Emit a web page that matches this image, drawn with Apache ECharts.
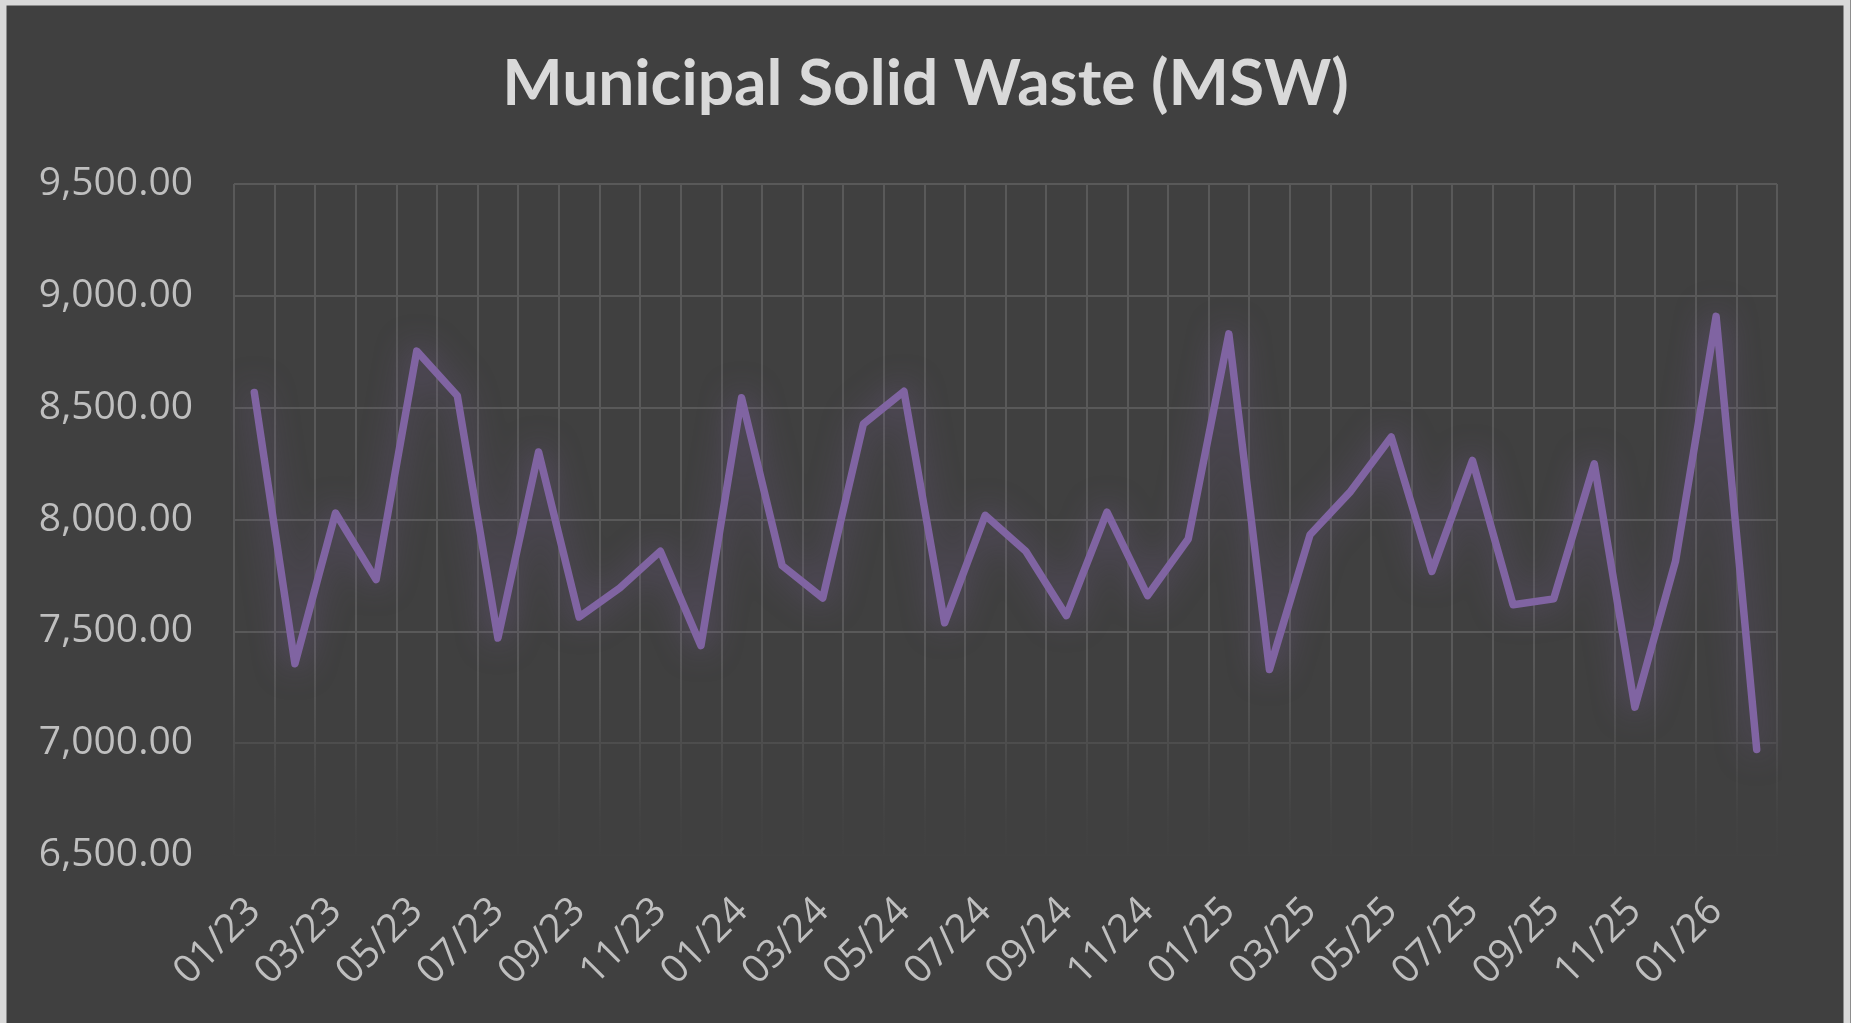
<!DOCTYPE html>
<html>
<head>
<meta charset="utf-8">
<script src="https://cdn.jsdelivr.net/npm/echarts@6/dist/echarts.min.js"></script>
<style>
  html, body { margin: 0; padding: 0; background: #404040; }
  #chart { width: 1851px; height: 1023px; }
</style>
</head>
<body>
<div id="chart"></div>
<script>
// monthly categories, Jan 2023 .. Feb 2026
const months = [
  '01/23', '02/23', '03/23', '04/23', '05/23', '06/23', '07/23', '08/23', '09/23', '10/23', '11/23', '12/23',
  '01/24', '02/24', '03/24', '04/24', '05/24', '06/24', '07/24', '08/24', '09/24', '10/24', '11/24', '12/24',
  '01/25', '02/25', '03/25', '04/25', '05/25', '06/25', '07/25', '08/25', '09/25', '10/25', '11/25', '12/25',
  '01/26', '02/26'
];

const mswValues = [
  8568, 7355, 8029, 7731, 8753, 8553, 7470, 8302, 7564, 7694, 7858, 7436,
  8544, 7794, 7649, 8427, 8573, 7538, 8019, 7858, 7570, 8033, 7660, 7913,
  8830, 7329, 7932, 8126, 8369, 7768, 8264, 7619, 7645, 8249, 7161, 7813,
  8908, 6972
];

const yMin = 6500;
const yMax = 9500;
const yStep = 500;

const chart = echarts.init(document.getElementById('chart'), null, { renderer: 'canvas' });

const fmt = v => Number(v).toLocaleString('en-US', { minimumFractionDigits: 2, maximumFractionDigits: 2 });

chart.setOption({
  backgroundColor: '#404040',
  animation: false,
  title: {
    text: 'Municipal Solid Waste (MSW)',
    left: 'center',
    top: 47,
    textStyle: {
      color: '#d9d9d9',
      fontFamily: 'Lato',
      fontWeight: 'bold',
      fontSize: 64
    }
  },
  grid: {
    left: 234,
    right: 74,
    top: 184,
    bottom: 168,
    containLabel: false
  },
  graphic: [
    {
      // fade the lower part of the grid like the original
      type: 'rect',
      z: 1,
      silent: true,
      shape: { x: 228, y: 660, width: 1560, height: 210 },
      style: {
        fill: new echarts.graphic.LinearGradient(0, 0, 0, 1, [
          { offset: 0, color: 'rgba(64,64,64,0)' },
          { offset: 0.75, color: 'rgba(64,64,64,0.9)' },
          { offset: 1, color: 'rgba(64,64,64,1)' }
        ])
      }
    },
    {
      // light outer frame
      type: 'rect',
      z: 5,
      silent: true,
      shape: { x: 3, y: 2, width: 1844, height: 1040 },
      style: { fill: 'none', stroke: '#d9d9d9', lineWidth: 7 }
    }
  ],
  xAxis: {
    type: 'category',
    data: months,
    boundaryGap: true,
    axisLine: { show: false },
    axisTick: { show: false },
    axisLabel: {
      interval: 1,
      rotate: 45,
      margin: 50,
      color: '#bfbfbf',
      fontFamily: 'Open Sans',
      fontSize: 39
    },
    splitLine: {
      show: true,
      interval: 0,
      lineStyle: { color: '#595959', width: 2 }
    }
  },
  yAxis: {
    type: 'value',
    min: yMin,
    max: yMax,
    interval: yStep,
    axisLine: { show: false },
    axisTick: { show: false },
    axisLabel: {
      margin: 41,
      color: '#bfbfbf',
      fontFamily: 'Open Sans',
      fontSize: 39,
      formatter: fmt
    },
    splitLine: {
      lineStyle: { color: '#595959', width: 2 }
    }
  },
  series: [
    {
      name: 'MSW',
      type: 'line',
      data: mswValues,
      symbol: 'none',
      z: 3,
      lineStyle: {
        color: '#8064a2',
        width: 7.5,
        join: 'round',
        cap: 'round',
        shadowBlur: 32,
        shadowColor: 'rgba(128,100,162,0.6)'
      }
    }
  ]
});
</script>
</body>
</html>
